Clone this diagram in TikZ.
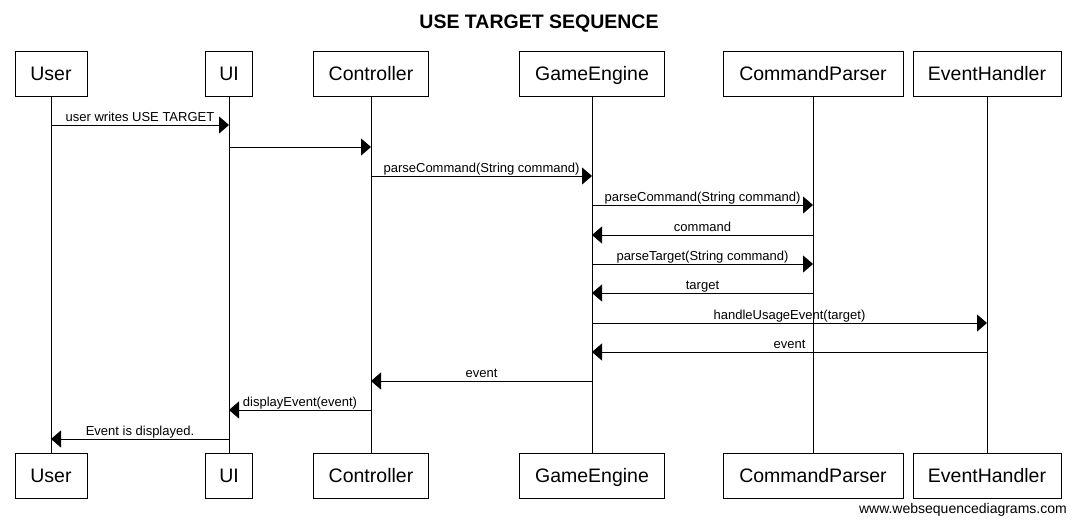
\documentclass[tikz,border=0pt]{standalone}
\usepackage{fontspec}
\setmainfont{Liberation Sans}
\usetikzlibrary{arrows.meta}
\begin{document}
\begin{tikzpicture}[x=1pt,y=-1pt,
  part/.style={draw, line width=1pt, minimum height=45pt, inner sep=0pt,
    font=\fontsize{19.5}{20}\selectfont, text height=14pt, text depth=0pt},
  life/.style={line width=1pt},
  msg/.style={line width=1pt, -{Triangle[length=10pt,width=17pt]}},
  lbl/.style={font=\fontsize{13}{14}\selectfont, anchor=base, yshift=3.5pt, inner sep=0pt}]
\useasboundingbox (0,0) rectangle (1077,523);
\node[font=\bfseries\fontsize{19.5}{20}\selectfont, anchor=base, inner sep=0pt] (title) at (539,28) {USE TARGET SEQUENCE};
% top participants
\node[part, minimum width=72pt]  (u1) at (51,73.5)  {User};
\node[part, minimum width=47pt]  (ui1) at (229,73.5) {UI};
\node[part, minimum width=115pt] (c1) at (371,73.5) {Controller};
\node[part, minimum width=145pt] (g1) at (592,73.5) {GameEngine};
\node[part, minimum width=180pt] (p1) at (813,73.5) {CommandParser};
\node[part, minimum width=148pt] (e1) at (987,73.5) {EventHandler};
% bottom participants
\node[part, minimum width=72pt]  (u2) at (51,475.5)  {User};
\node[part, minimum width=47pt]  (ui2) at (229,475.5) {UI};
\node[part, minimum width=115pt] (c2) at (371,475.5) {Controller};
\node[part, minimum width=145pt] (g2) at (592,475.5) {GameEngine};
\node[part, minimum width=180pt] (p2) at (813,475.5) {CommandParser};
\node[part, minimum width=148pt] (e2) at (987,475.5) {EventHandler};
% lifelines
\draw[life] (u1) -- (u2);
\draw[life] (ui1) -- (ui2);
\draw[life] (c1) -- (c2);
\draw[life] (g1) -- (g2);
\draw[life] (p1) -- (p2);
\draw[life] (e1) -- (e2);
% message rows
\coordinate (r1) at (0,125);
\coordinate (r2) at (0,147);
\coordinate (r3) at (0,176);
\coordinate (r4) at (0,205);
\coordinate (r5) at (0,235);
\coordinate (r6) at (0,264);
\coordinate (r7) at (0,293);
\coordinate (r8) at (0,323);
\coordinate (r9) at (0,352);
\coordinate (r10) at (0,381);
\coordinate (r11) at (0,410);
\coordinate (r12) at (0,439);
\draw[msg] (u1 |- r1) -- node[lbl]{user writes USE TARGET} (ui1 |- r1);
\draw[msg] (ui1 |- r2) -- (c1 |- r2);
\draw[msg] (c1 |- r3) -- node[lbl]{parseCommand(String command)} (g1 |- r3);
\draw[msg] (g1 |- r4) -- node[lbl]{parseCommand(String command)} (p1 |- r4);
\draw[msg] (p1 |- r5) -- node[lbl]{command} (g1 |- r5);
\draw[msg] (g1 |- r6) -- node[lbl]{parseTarget(String command)} (p1 |- r6);
\draw[msg] (p1 |- r7) -- node[lbl]{target} (g1 |- r7);
\draw[msg] (g1 |- r8) -- node[lbl]{handleUsageEvent(target)} (e1 |- r8);
\draw[msg] (e1 |- r9) -- node[lbl]{event} (g1 |- r9);
\draw[msg] (g1 |- r10) -- node[lbl]{event} (c1 |- r10);
\draw[msg] (c1 |- r11) -- node[lbl]{displayEvent(event)} (ui1 |- r11);
\draw[msg] (ui1 |- r12) -- node[lbl]{Event is displayed.} (u1 |- r12);
\node[anchor=base east, font=\fontsize{14}{15}\selectfont, inner sep=0pt] (footer) at (1067,513) {www.websequencediagrams.com};
\end{tikzpicture}
\end{document}
